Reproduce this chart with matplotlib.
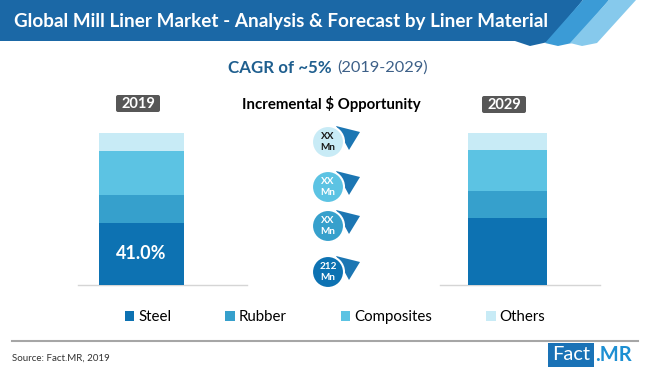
import numpy as np
import matplotlib
matplotlib.use('Agg')
import matplotlib.pyplot as plt
from matplotlib.patches import Polygon, Circle, FancyBboxPatch

plt.rcParams['font.family'] = ['Lato', 'DejaVu Sans']

# Data
years = ['2019', '2029']
segments = ['Steel', 'Rubber', 'Composites', 'Others']
steel = [41.0, 44.0]
rubber = [18.0, 18.0]
composites = [29.0, 27.0]
others = [12.0, 11.0]
# incremental opportunity labels, top to bottom (Others, Composites, Rubber, Steel)
opportunity = ['XX\nMn', 'XX\nMn', 'XX\nMn', '212\nMn']

colors = ['#0d72b2', '#36a0cc', '#5cc3e3', '#c8ebf6']
W, H = 650, 379

fig = plt.figure(figsize=(W / 100, H / 100), dpi=100)
fig.patch.set_facecolor('white')

# overlay axes in pixel coordinates for the decorations
ax0 = fig.add_axes([0, 0, 1, 1])
ax0.set_xlim(0, W)
ax0.set_ylim(H, 0)
ax0.axis('off')

# title banner
ax0.add_patch(Polygon([(0, 0), (583, 0), (548, 42), (530, 46), (515, 41), (0, 41)],
                      closed=True, color='#1b68a6', lw=0))
ax0.add_patch(Polygon([(583, 0), (609, 0), (572, 43), (558, 46), (545, 43)],
                      closed=True, color='#3b9bd6', lw=0))
ax0.add_patch(Polygon([(609, 0), (636, 0), (597, 43), (582, 46), (570, 43)],
                      closed=True, color='#86c9ec', lw=0))
ax0.text(14, 21, 'Global Mill Liner Market - Analysis & Forecast by Liner Material',
         color='white', fontsize=13.6, fontweight='bold', va='center', ha='left')

# CAGR line
ax0.text(332, 68, 'CAGR of ~5%', color='#1f5f8f', fontsize=12.2, fontweight='bold',
         ha='right', va='center')
ax0.text(337, 68, '(2019-2029)', color='#3d6088', fontsize=11.8, ha='left', va='center')
ax0.text(331, 104, 'Incremental $ Opportunity', color='black', fontsize=10.8,
         fontweight='bold', ha='center', va='center')

# year boxes
for (x0, y0), yr in zip([(116, 95), (482, 96)], years):
    ax0.add_patch(FancyBboxPatch((x0, y0), 44, 17, boxstyle='round,pad=0,rounding_size=2',
                                 color='#575757', lw=0))
    ax0.text(x0 + 22, y0 + 9, yr, color='white', fontsize=10.5, fontweight='bold',
             ha='center', va='center')

# baseline under bars
ax0.plot([78, 247], [285, 285], color='#d5d5d5', lw=1)
ax0.plot([440, 600], [285, 285], color='#d5d5d5', lw=1)

# incremental opportunity bubbles
circle_y = [142, 187, 226, 272]
circle_colors = colors[::-1]
for cy, lab, cc in zip(circle_y, opportunity, circle_colors):
    cx = 328
    ax0.add_patch(Polygon([(cx + 8, cy - 16), (cx + 32, cy - 10), (cx + 21, cy + 8)],
                          closed=True, color='#1c76b3', lw=0))
    ax0.add_patch(Circle((cx, cy), 16, facecolor=cc, edgecolor='white', lw=1.5))
    tc = '#1a1a1a' if cc == colors[3] else 'white'
    ax0.text(cx, cy, lab, color=tc, fontsize=7.2, fontweight='bold',
             ha='center', va='center', linespacing=1.35)

# footer
ax0.plot([12, 638], [341, 341], color='#a6a6a6', lw=1.5)
ax0.text(12, 358, 'Source: Fact.MR, 2019', color='#333333', fontsize=7,
         ha='left', va='center')
ax0.add_patch(plt.Rectangle((548, 343), 46, 24, color='#1a72b6', lw=0))
ax0.text(571, 355, 'Fact', color='white', fontsize=14.5, ha='center', va='center')
ax0.text(595, 355, '.MR', color='#1d8fd2', fontsize=14.5, fontweight='bold',
         ha='left', va='center')

# stacked bars
unit = 366.0
left_px, right_px = 60, 620
x_c0 = 141.5
ax = fig.add_axes([left_px / W, (H - 285) / H, (right_px - left_px) / W, 152 / H])
ax.patch.set_alpha(0)
ax.set_xlim(-(x_c0 - left_px) / unit, (right_px - x_c0) / unit)
ax.set_ylim(0, 100)
ax.axis('off')

x = np.arange(len(years))
widths = [85 / unit, 79 / unit]
bottom = np.zeros(len(years))
handles = []
for name, vals, col in zip(segments, [steel, rubber, composites, others], colors):
    b = ax.bar(x, vals, width=widths, bottom=bottom, color=col, label=name, lw=0)
    handles.append(b)
    bottom += np.array(vals)

ax.text(x[0], steel[0] / 2, f'{steel[0]:.1f}%', color='white', fontsize=13,
        fontweight='bold', ha='center', va='center')

fig.legend(handles=handles, labels=segments, loc='center', ncol=4,
           bbox_to_anchor=(335 / W, 1 - 317 / H), frameon=False, fontsize=10.8,
           handlelength=0.65, handleheight=0.65, handletextpad=0.25,
           columnspacing=3.6)

fig.savefig('out.png', dpi=100)
